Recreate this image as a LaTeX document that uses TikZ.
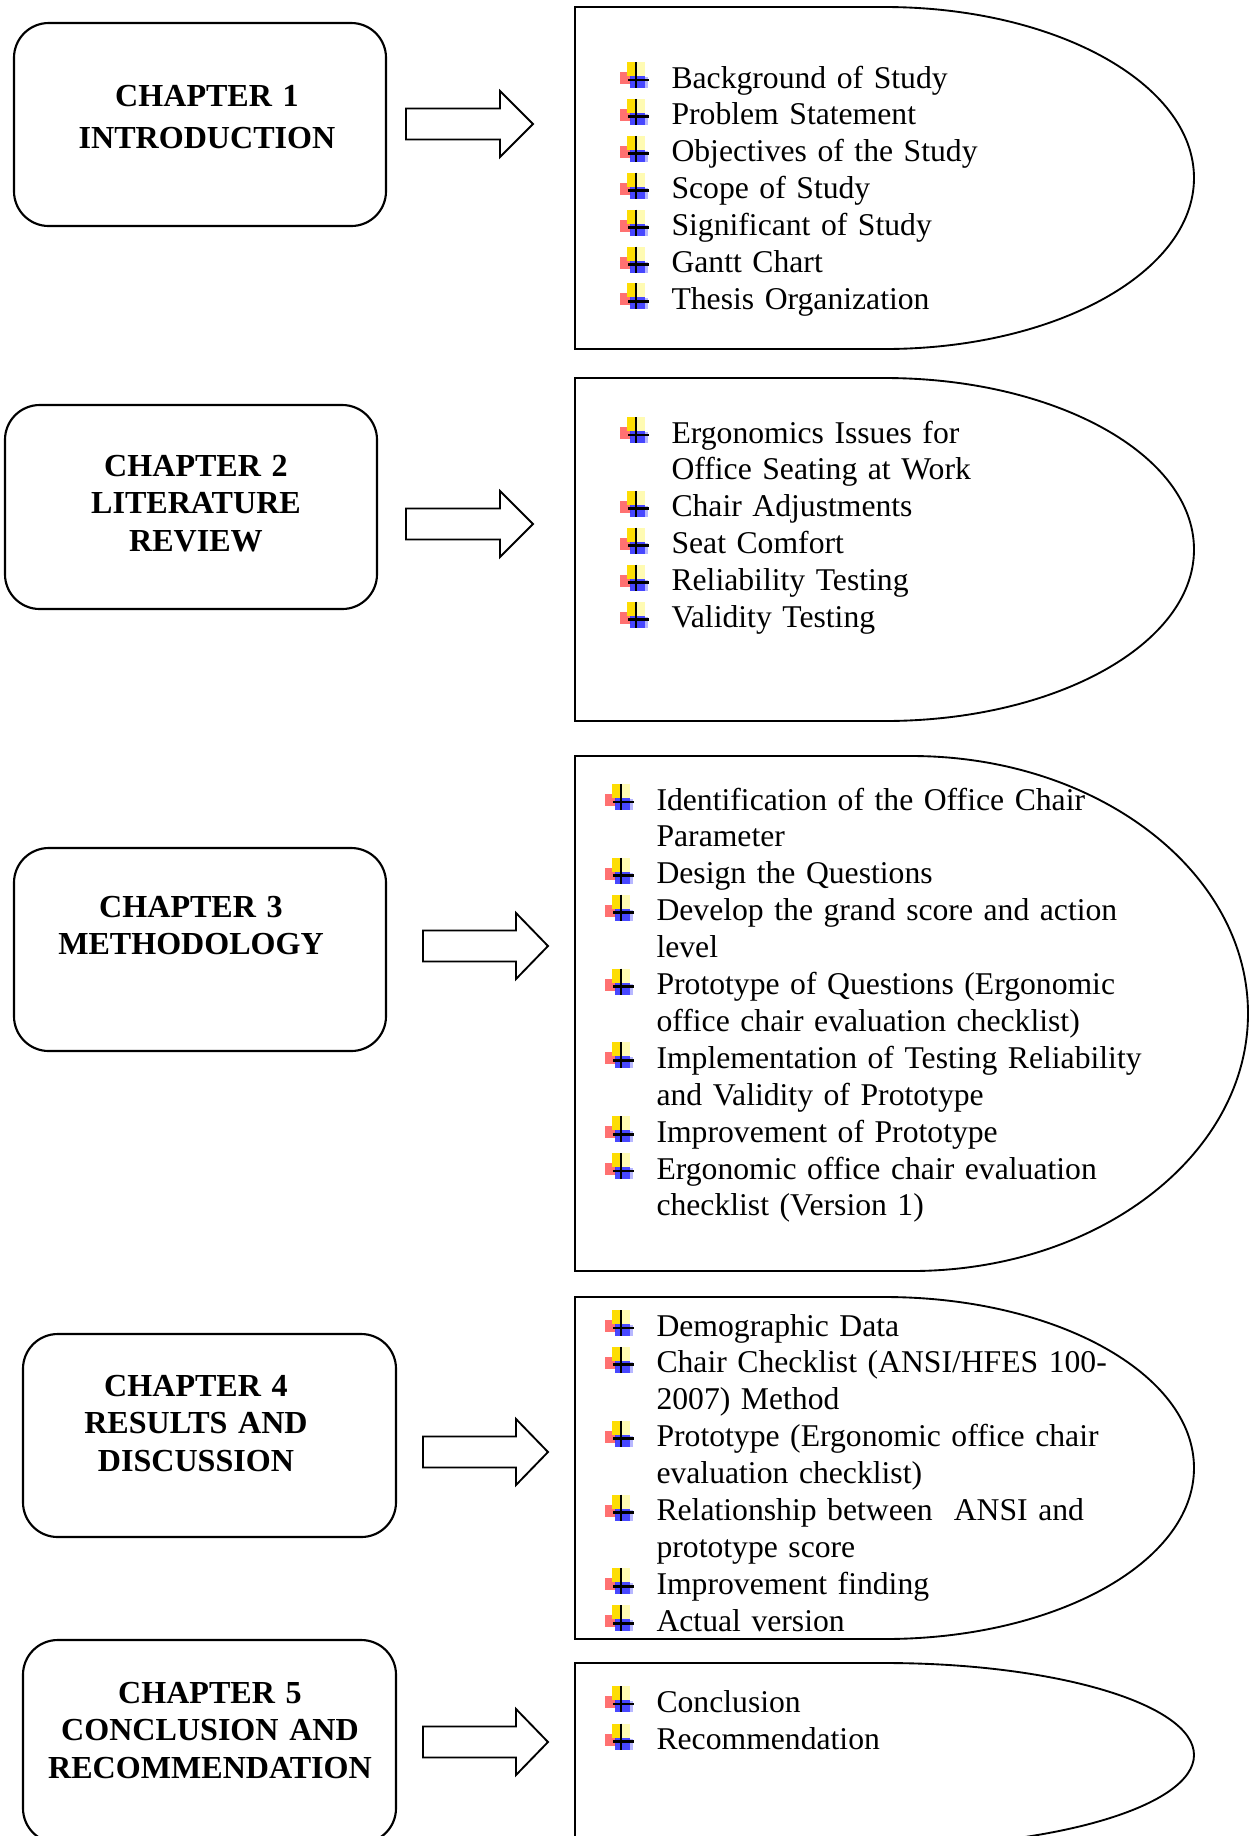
\documentclass[tikz,border=0pt]{standalone}
\usepackage{fontspec}
\setmainfont{Liberation Serif}
\newcommand\dshp[4]{%
  \pgfmathsetmacro\dxc{(#1+#3)/2}%
  \pgfmathsetmacro\dym{(#2+#4)/2}%
  \pgfmathsetmacro\dkx{0.5523*(#3-\dxc)}%
  \pgfmathsetmacro\dky{0.5523*(#4-#2)/2}%
  \draw[dshape] (#1,#2) -- (\dxc,#2) .. controls ({\dxc+\dkx},#2) and (#3,{\dym-\dky}) .. (#3,\dym) .. controls (#3,{\dym+\dky}) and ({\dxc+\dkx},#4) .. (\dxc,#4) -- (#1,#4) -- cycle;}
\newcommand\itm[4]{%
  \node[itemtext] (#1) at (#2,#3) {#4};
  \pic at ({#2-35},{#3-8}) {bul};}
\newcommand\blockarrow[4]{% left, headbase, tip, centre y
  \draw[barrow] (#1,{#4-15.5}) -- (#2,{#4-15.5}) -- (#2,{#4-33}) -- (#3,#4) -- (#2,{#4+33}) -- (#2,{#4+15.5}) -- (#1,{#4+15.5}) -- cycle;}
\tikzset{
  chapbox/.style={draw=black,line width=0.8pt,rounded corners=13pt},
  chaptext/.style={anchor=base,inner sep=0pt,text width=170pt,align=center},
  dshape/.style={draw=black,line width=0.7pt},
  barrow/.style={draw=black,line width=0.7pt,fill=white},
  itemtext/.style={anchor=base west,inner sep=0pt,text width=210pt,align=left,font=\fontsize{11.85}{13.8}\selectfont},
  bul/.pic={
    \fill[red!65!white,opacity=0.85] (-16,-8) rectangle (-5,4);
    \fill[yellow!80!orange] (-9,-18) rectangle (0,-4);
    \fill[yellow!30] (0,-18) rectangle (9,-4);
    \fill[blue!80,opacity=0.9] (-6,-4) rectangle (9,8);
    \fill[blue!35,opacity=0.8] (9,-3) rectangle (12,8);
    \draw[line width=0.9pt] (0,-18) -- (0,8);
    \draw[line width=1.1pt] (-8,0) -- (13,0);
  }
}
\begin{document}
\begin{tikzpicture}[x=0.3742pt,y=-0.3742pt]
\useasboundingbox[fill=white] (0,0) rectangle (1256,1836);
\clip (0,0) rectangle (1256,1836);

% chapter boxes
\draw[chapbox] (14,23) rectangle (386,226);
\draw[chapbox] (5,405) rectangle (377,609);
\draw[chapbox] (14,848) rectangle (386,1051);
\draw[chapbox] (23,1334) rectangle (396,1537);
\draw[chapbox] (23,1640) rectangle (396,1843);

\node[chaptext,font=\bfseries\fontsize{12}{15.7}\selectfont] (ch1) at (207,106.5) {CHAPTER 1\\INTRODUCTION};
\node[chaptext,font=\bfseries\fontsize{12}{14}\selectfont] (ch2) at (196,476.5) {CHAPTER 2\\LITERATURE\\REVIEW};
\node[chaptext,font=\bfseries\fontsize{12}{14}\selectfont] (ch3) at (191,917.5) {CHAPTER 3\\METHODOLOGY};
\node[chaptext,font=\bfseries\fontsize{12}{14}\selectfont] (ch4) at (196,1396.5) {CHAPTER 4\\RESULTS AND\\DISCUSSION};
\node[chaptext,font=\bfseries\fontsize{12}{14}\selectfont] (ch5) at (210,1703.5) {CHAPTER 5\\CONCLUSION AND\\RECOMMENDATION};

% block arrows
\blockarrow{406}{500}{533}{124}
\blockarrow{406}{500}{533}{524}
\blockarrow{423}{516}{548}{946}
\blockarrow{423}{516}{548}{1452}
\blockarrow{423}{516}{548}{1742}

% content shapes
\dshp{575}{7}{1194}{349}
\dshp{575}{378}{1194}{721}
\dshp{575}{756}{1248}{1271}
\dshp{575}{1297}{1194}{1639}
\dshp{575}{1663}{1194}{1847}

% chapter 1 items
\itm{a1}{671}{88}{Background of Study}
\itm{a2}{671}{124.9}{Problem Statement}
\itm{a3}{671}{161.8}{Objectives of the Study}
\itm{a4}{671}{198.7}{Scope of Study}
\itm{a5}{671}{235.6}{Significant of Study}
\itm{a6}{671}{272.5}{Gantt Chart}
\itm{a7}{671}{309.4}{Thesis Organization}

% chapter 2 items
\itm{b1}{671}{443}{Ergonomics Issues for\\Office Seating at Work}
\itm{b2}{671}{516.8}{Chair Adjustments}
\itm{b3}{671}{553.7}{Seat Comfort}
\itm{b4}{671}{590.6}{Reliability Testing}
\itm{b5}{671}{627.5}{Validity Testing}

% chapter 3 items
\itm{c1}{656}{810}{Identification of the Office Chair\\Parameter}
\itm{c2}{656}{883.8}{Design the Questions}
\itm{c3}{656}{920.7}{Develop the grand score and action\\level}
\itm{c4}{656}{994.5}{Prototype of Questions (Ergonomic\\office chair evaluation checklist)}
\itm{c5}{656}{1068.3}{Implementation of Testing Reliability\\and Validity of Prototype}
\itm{c6}{656}{1142.1}{Improvement of Prototype}
\itm{c7}{656}{1179}{Ergonomic office chair evaluation\\checklist (Version 1)}

% chapter 4 items
\itm{d1}{656}{1336}{Demographic Data}
\itm{d2}{656}{1372.9}{Chair Checklist (ANSI/HFES 100-\\2007) Method}
\itm{d3}{656}{1446.7}{Prototype (Ergonomic office chair\\evaluation checklist)}
\itm{d4}{656}{1520.5}{Relationship between\ \ ANSI and\\prototype score}
\itm{d5}{656}{1594.3}{Improvement finding}
\itm{d6}{656}{1631.2}{Actual version}

% chapter 5 items
\itm{e1}{656}{1712}{Conclusion}
\itm{e2}{656}{1749.5}{Recommendation}
\end{tikzpicture}
\end{document}
